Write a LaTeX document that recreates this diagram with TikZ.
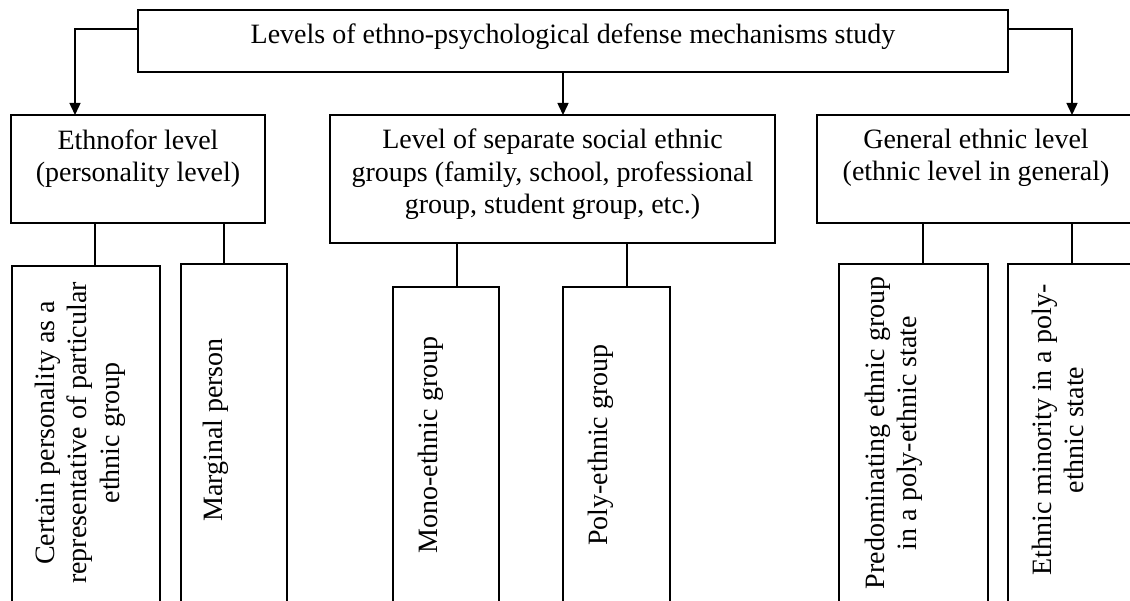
\documentclass[tikz,border=0pt]{standalone}
\usepackage{fontspec}
\setmainfont{Liberation Serif}
\usetikzlibrary{arrows.meta,calc}

\begin{document}
\begin{tikzpicture}[x=1pt,y=-1pt,
  box/.style={draw,line width=1.5pt,inner sep=0pt,outer sep=0pt,anchor=north west},
  lbl/.style={inner sep=0pt,outer sep=0pt,align=center,anchor=north,
              font=\fontsize{28}{32.5}\selectfont},
  vlbl/.style={lbl,rotate=90},
  link/.style={line width=1.5pt},
  arr/.style={link,-{Triangle[width=11pt,length=12pt]}}]
\useasboundingbox (0,0) rectangle (1130,601);
\clip (0,0) rectangle (1130,601);

% top box
\node[box,minimum width=870pt,minimum height=62pt] (T) at (138,10) {};
\node[lbl] (Tt) at (573,24) {Levels of ethno-psychological defense mechanisms study};

% second level
\node[box,minimum width=254pt,minimum height=108pt] (L1) at (11,115) {};
\node[lbl] (L1t) at (138,129.5) {Ethnofor level\\(personality level)};

\node[box,minimum width=445pt,minimum height=128pt] (M1) at (330,115) {};
\node[lbl] (M1t) at (552.5,129) {Level of separate social ethnic\\groups (family, school, professional\\group, student group, etc.)};

\node[box,minimum width=318pt,minimum height=108pt] (R1) at (817,115) {};
\node[lbl] (R1t) at (976,129) {General ethnic level\\(ethnic level in general)};

% third level (tall boxes with vertical text)
\node[box,minimum width=148pt,minimum height=340pt] (B1) at (12,266) {};
\node[vlbl] (B1t) at (35,433) {Certain personality as a\\representative of particular\\ethnic group};

\node[box,minimum width=106pt,minimum height=342pt] (B2) at (181,264) {};
\node[vlbl] (B2t) at (203,430) {Marginal person};

\node[box,minimum width=106pt,minimum height=319pt] (B3) at (393,287) {};
\node[vlbl] (B3t) at (418,445) {Mono-ethnic group};

\node[box,minimum width=107pt,minimum height=319pt] (B4) at (563,287) {};
\node[vlbl] (B4t) at (588,445) {Poly-ethnic group};

\node[box,minimum width=149pt,minimum height=342pt] (B5) at (839,264) {};
\node[vlbl] (B5t) at (865,433) {Predominating ethnic group\\in a poly-ethnic state};

\node[box,minimum width=132pt,minimum height=342pt] (B6) at (1008,264) {};
\node[vlbl] (B6t) at (1032,430) {Ethnic minority in a poly-\\ethnic state};

% arrows from the top box
\coordinate (aL) at ([xshift=64pt]L1.north west);
\coordinate (aM) at ([xshift=233pt]M1.north west);
\coordinate (aR) at ([xshift=255pt]R1.north west);
\draw[arr] ([yshift=-19pt]T.north west) -| (aL);
\draw[arr] (T.south -| aM) -- (aM);
\draw[arr] ([yshift=-19pt]T.north east) -| (aR);

% plain links to the third level
\coordinate (c1) at ([xshift=83pt]B1.north west);
\coordinate (c2) at ([xshift=43pt]B2.north west);
\coordinate (c3) at ([xshift=64pt]B3.north west);
\coordinate (c4) at ([xshift=64pt]B4.north west);
\coordinate (c5) at ([xshift=84pt]B5.north west);
\coordinate (c6) at ([xshift=64pt]B6.north west);
\draw[link] (L1.south -| c1) -- (c1);
\draw[link] (L1.south -| c2) -- (c2);
\draw[link] (M1.south -| c3) -- (c3);
\draw[link] (M1.south -| c4) -- (c4);
\draw[link] (R1.south -| c5) -- (c5);
\draw[link] (R1.south -| c6) -- (c6);
\end{tikzpicture}
\end{document}
